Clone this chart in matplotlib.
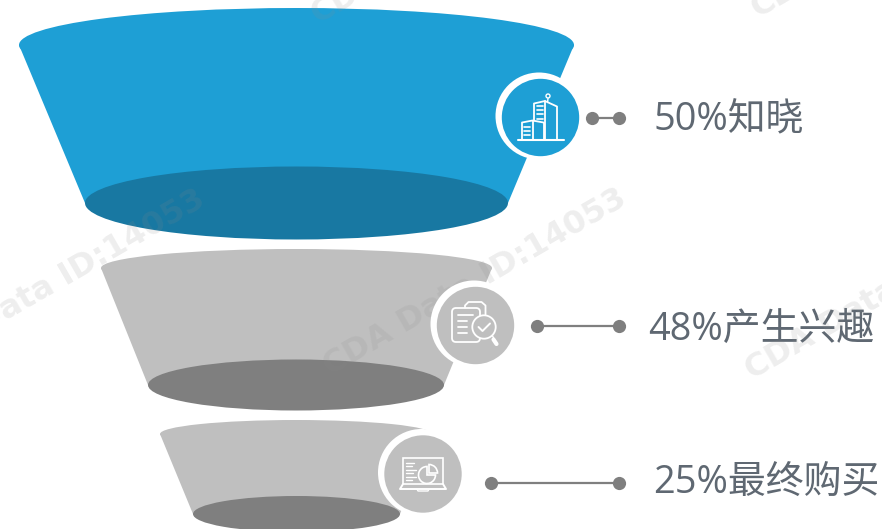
import matplotlib
matplotlib.use("Agg")
import matplotlib.pyplot as plt
from matplotlib.patches import Ellipse, Polygon, Circle, Rectangle, FancyBboxPatch, Wedge

percents = [50, 48, 25]
stages = ["知晓", "产生兴趣", "最终购买"]

BLUE, BLUE_DK = "#1e9fd5", "#1878a2"
GRAY, GRAY_DK = "#bfbfbf", "#7f7f7f"
TEXT = "#5f6872"
FONT = ["Open Sans", "Noto Sans CJK SC", "DejaVu Sans"]

fig = plt.figure(figsize=(8.82, 5.29), dpi=100)
ax = fig.add_axes([0, 0, 1, 1])
ax.set_xlim(0, 882)
ax.set_ylim(529, 0)
ax.axis("off")

# funnel layers: top ellipse (x0, x1, cy, ry), bottom ellipse (x0, x1, cy, ry), colours
layers = [
    ((19, 574, 45, 37), (85, 508, 203, 36.5), BLUE, BLUE_DK),
    ((101, 492, 268, 19), (148, 444, 385, 25.5), GRAY, GRAY_DK),
    ((160, 432, 434, 14), (193, 400, 514, 18), GRAY, GRAY_DK),
]


def ellipse(x0, x1, cy, ry, color, z):
    ax.add_patch(Ellipse(((x0 + x1) / 2, cy), x1 - x0, 2 * ry, fc=color, ec="none", zorder=z))


for top, bot, col, dark in layers:
    ellipse(*top, col, 2)
    ax.add_patch(Polygon([(top[0], top[2]), (top[1], top[2]), (bot[1], bot[2]), (bot[0], bot[2])],
                         fc=col, ec="none", zorder=2))
    ellipse(*bot, dark, 3)

# faint diagonal stamps across the slide
for x, y, s in [(91, 262, "Data ID:14053"), (475, 283, "CDA Data ID:14053"),
                (822, 330, "CDA Data"), (345, -2, "CDA"), (775, -2, "CD")]:
    ax.text(x, y, s, rotation=30, ha="center", va="center", fontsize=23, weight="bold",
            family="DejaVu Sans", color="#8c8c8c", alpha=0.15, zorder=4, rotation_mode="anchor")

# badge discs: white halo behind a filled disc
badges = [((539, 116), (540.5, 117.5), BLUE), ((474, 324), (475.5, 325.5), GRAY), ((421.5, 472.5), (423, 474), GRAY)]
for halo, c, col in badges:
    ax.add_patch(Circle(halo, 43.5, fc="white", ec="none", zorder=5))
    ax.add_patch(Circle(c, 38.7, fc=col, ec="none", zorder=6))


def stroke(pts, lw=1.4, z=7):
    ax.plot(*zip(*pts), color="white", lw=lw, solid_capstyle="round", solid_joinstyle="round", zorder=z)


def at(c, pts):
    return [(c[0] + x, c[1] + y) for x, y in pts]


# building icon
c = badges[0][1]
stroke(at(c, [(-23, 22.5), (23, 22.5)]), 1.5)
stroke(at(c, [(-18.5, 22.5), (-18.5, 5), (-8, 3), (3, 5)]), 1.3)
stroke(at(c, [(-8, 22.5), (-8, 3)]), 1.3)
stroke(at(c, [(3, 22.5), (3, 5)]), 1.3)
stroke(at(c, [(-6.5, 3), (-6.5, -14), (4.5, -16.5), (16.5, -11), (16.5, 22.5)]), 1.3)
stroke(at(c, [(4.5, 22.5), (4.5, -16.5)]), 1.3)
stroke(at(c, [(7, -15), (7.5, -19)]), 1.0)
ax.add_patch(Circle((c[0] + 7.5, c[1] - 21.5), 2, fc="none", ec="white", lw=1.0, zorder=7))
for dy in (-11.5, -7.5, -3.5, 1):
    stroke(at(c, [(-4, dy), (2, dy)]), 1.2)
for dy in (9.5, 13.5, 17.5):
    stroke(at(c, [(-16.5, dy), (-10.5, dy)]), 1.2)

# clipboard and magnifier icon
c = badges[1][1]
ax.add_patch(FancyBboxPatch((c[0] - 23.5, c[1] - 17.5), 28, 34, boxstyle="round,pad=0,rounding_size=4",
                            fc="none", ec="white", lw=1.3, zorder=7))
stroke(at(c, [(-10.5, -18), (-10.5, -20), (-7, -23.5), (6, -23.5), (10, -20), (10, -11)]), 1.3)
for dy, x1 in [(-10.5, -3), (-4.5, -9), (1.5, -9), (7.5, -9)]:
    stroke(at(c, [(-18, dy), (x1, dy)]), 1.3)
ax.add_patch(Circle((c[0] + 8.5, c[1] + 1.5), 11.7, fc=GRAY, ec="white", lw=1.3, zorder=7))
stroke(at(c, [(3, 1.5), (7, 5.5), (14.5, -2)]), 1.4, 8)
stroke(at(c, [(17, 10.5), (18.5, 13)]), 1.0, 8)
stroke(at(c, [(18, 14), (21, 18.5)]), 3.0)

# laptop with pie icon
c = badges[2][1]
ax.add_patch(Rectangle((c[0] - 20, c[1] - 16), 40, 26, fc="none", ec="white", lw=1.2, zorder=7))
stroke(at(c, [(-20, 10), (-23, 15), (23, 15), (20, 10)]), 1.4)
stroke(at(c, [(-6, 15), (-5, 17), (5, 17), (6, 15)]), 1.0)
for dy, x1 in [(-11, -9), (-8, -11), (-4.5, -7), (-1, -10), (2.5, -7), (6, -11)]:
    stroke(at(c, [(-17, dy), (x1, dy)]), 1.0)
# the y axis runs downward, so wedge angles sweep clockwise on screen
ax.add_patch(Wedge((c[0] + 4, c[1] + 1), 8.5, 0, 270, fc="none", ec="white", lw=1.2, zorder=7))
ax.add_patch(Wedge((c[0] + 6, c[1] - 1), 8.5, 270, 360, fc="none", ec="white", lw=1.2, zorder=7))

# leader lines and captions
leaders = [(592, 619, 118), (537, 619, 326), (491, 619, 483)]
captions = [(654, 120), (648, 330), (653, 484)]
for (x0, x1, y), (tx, ty), p, name in zip(leaders, captions, percents, stages):
    ax.plot([x0, x1], [y, y], color=GRAY_DK, lw=1.6, zorder=3)
    ax.plot([x0, x1], [y, y], "o", color=GRAY_DK, ms=9.5, mec="none", zorder=3)
    ax.text(tx, ty, f"{p}%{name}", family=FONT, fontsize=27.3, color=TEXT, ha="left", va="center")

fig.savefig("out.png", dpi=100)
